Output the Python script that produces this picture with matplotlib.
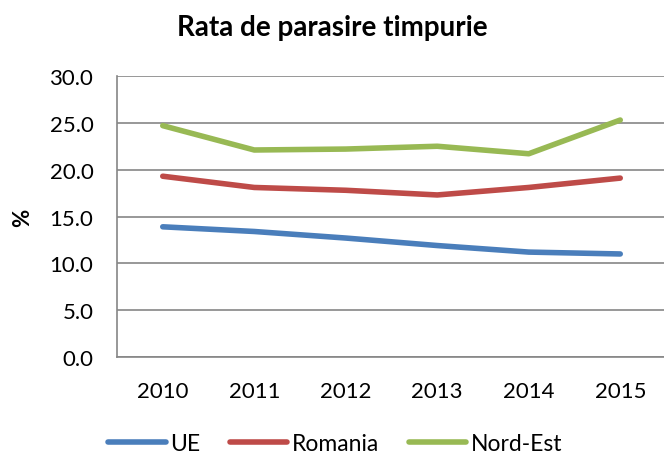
import matplotlib

matplotlib.use("Agg")
import matplotlib.pyplot as plt

years = ["2010", "2011", "2012", "2013", "2014", "2015"]
ue = [13.9, 13.4, 12.7, 11.9, 11.2, 11.0]
romania = [19.3, 18.1, 17.8, 17.3, 18.1, 19.1]
nord_est = [24.7, 22.1, 22.2, 22.5, 21.7, 25.3]
y_ticks = [0, 5, 10, 15, 20, 25, 30]

plt.rcParams["font.family"] = ["Lato", "DejaVu Sans"]

fig = plt.figure(figsize=(6.64, 4.56), dpi=100)
ax = fig.add_axes([117 / 664, 1 - 358 / 456, 549 / 664, 281 / 456])

x = list(range(len(years)))
for vals, color, label in (
    (ue, "#4A7EBB", "UE"),
    (romania, "#BE4B48", "Romania"),
    (nord_est, "#98B954", "Nord-Est"),
):
    ax.plot(x, vals, color=color, lw=4, solid_capstyle="round", label=label)

ax.set_xlim(-0.5, len(years) - 0.5)
ax.set_ylim(0, 30)
ax.set_yticks(y_ticks)
ax.set_yticklabels([f"{v:.1f}" for v in y_ticks])
ax.set_xticks(x)
ax.set_xticklabels(years)
ax.tick_params(length=0, labelsize=16, colors="black")
ax.tick_params(axis="x", pad=17)
ax.tick_params(axis="y", pad=17)
ax.grid(axis="y", color="#868686", lw=1.2)
ax.set_axisbelow(True)
for side in ("top", "right"):
    ax.spines[side].set_visible(False)
for side in ("left", "bottom"):
    ax.spines[side].set_color("#868686")
    ax.spines[side].set_linewidth(1.2)

ax.set_ylabel("%", fontsize=16, fontweight="bold", labelpad=12)
fig.text(0.5, 1 - 28 / 456, "Rata de parasire timpurie", ha="center", va="center",
         fontsize=20, fontweight="bold")

fig.legend(loc="center", bbox_to_anchor=(0.505, 1 - 445 / 456), ncol=3, frameon=False,
           fontsize=16.5, handlelength=2.5, columnspacing=1.3, handletextpad=0.2)

fig.savefig("out.png", dpi=100)
